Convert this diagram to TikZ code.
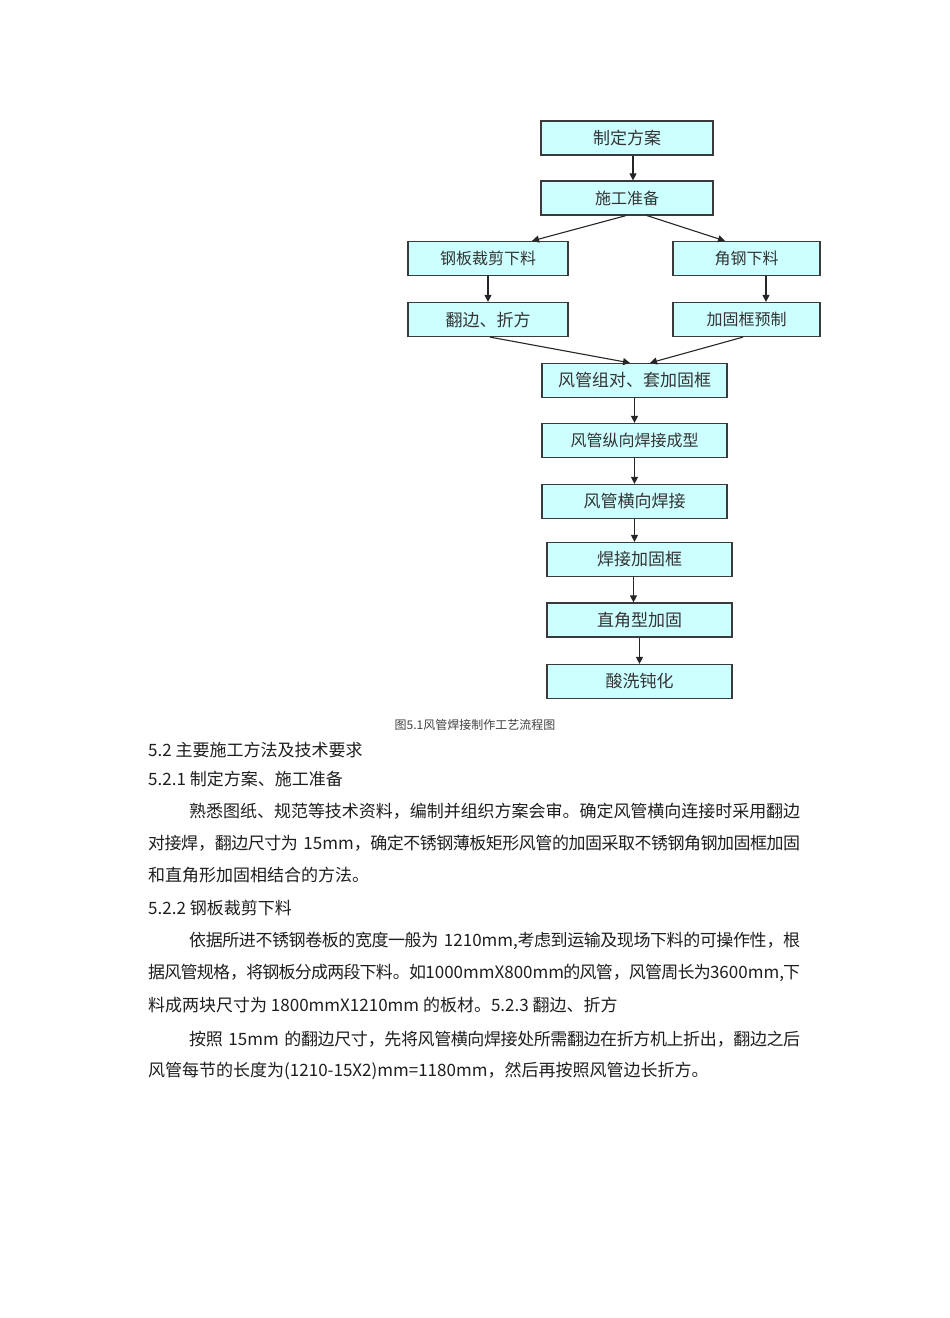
\documentclass[tikz,border=0pt]{standalone}
\usepackage{fontspec}
\setmainfont{Noto Sans CJK SC}
\usetikzlibrary{arrows.meta}
\definecolor{boxfill}{HTML}{CCFFFF}
\definecolor{boxline}{HTML}{3A3A3A}
\definecolor{inktext}{HTML}{1E1E1E}

\begin{document}
\begin{tikzpicture}[x=1pt,y=-1pt,
    stepbox/.style={draw=boxline, line width=1.2pt, fill=boxfill, inner sep=0pt,
      minimum width=#1, minimum height=34pt, text=black!80,
      font=\fontsize{16}{16}\selectfont},
    stepbox/.default=185pt,
    flow/.style={draw=black!85, line width=1.1pt, -{Triangle[length=7pt,width=7pt]}},
    textline/.style={anchor=west, inner sep=0pt, text=inktext,
      font=\fontsize{17}{17}\selectfont},
    fullline/.style={textline, text width=#1,
      execute at begin node={\noindent\parfillskip=0pt\relax
        \XeTeXlinebreaklocale "zh"\XeTeXlinebreakskip=0pt plus 3pt minus 2.5pt\relax}},
    fullline/.default=652pt]

  \useasboundingbox (0,0) rectangle (950,1318);

  % Process boxes
  \node[stepbox=172pt] (plan)  at (627,138)   {\fontsize{17}{17}\selectfont 制定方案};
  \node[stepbox=172pt] (prep)  at (627,198)   {施工准备};
  \node[stepbox=160pt] (cut)   at (488,258.5) {钢板裁剪下料};
  \node[stepbox=147pt] (angle) at (746.5,258.5) {角钢下料};
  \node[stepbox=160pt] (fold)  at (488,319.5) {\fontsize{17}{17}\selectfont 翻边、折方};
  \node[stepbox=147pt] (frame) at (746.5,319.5) {加固框预制};

  \node[stepbox] (assem)     at (634.5,380.5) {\fontsize{17}{17}\selectfont 风管组对、套加固框};
  \node[stepbox] (longweld)  at (634.5,440.5) {风管纵向焊接成型};
  \node[stepbox] (transweld) at (634.5,501.5) {\fontsize{17}{17}\selectfont 风管横向焊接};
  \node[stepbox] (frameweld) at (639.5,559.5) {\fontsize{17}{17}\selectfont 焊接加固框};
  \node[stepbox] (rightang)  at (639.5,620)   {\fontsize{17}{17}\selectfont 直角型加固};
  \node[stepbox] (pickle)    at (639.5,681.5) {\fontsize{17}{17}\selectfont 酸洗钝化};

  % Arrows
  \draw[flow] ([xshift=6pt]plan.south) -- ([xshift=6pt]prep.north);
  \draw[flow] ([xshift=-1pt]prep.south) -- ([xshift=44pt]cut.north);
  \draw[flow] ([xshift=20pt]prep.south) -- ([xshift=-21.5pt]angle.north);
  \draw[flow] (cut.south) -- (fold.north);
  \draw[flow] ([xshift=19.5pt]angle.south) -- ([xshift=19.5pt]frame.north);
  \draw[flow] ([xshift=2pt]fold.south) -- ([xshift=-4.5pt]assem.north);
  \draw[flow] ([xshift=-3.5pt]frame.south) -- ([xshift=15.5pt]assem.north);
  \draw[flow] (assem.south) -- (longweld.north);
  \draw[flow] (longweld.south) -- (transweld.north);
  \draw[flow] (transweld.south) -- (transweld.south |- frameweld.north);
  \draw[flow] ([xshift=-6pt]frameweld.south) -- ([xshift=-6pt]rightang.north);
  \draw[flow] (rightang.south) -- (pickle.north);

  % Caption and text below
  \node[inner sep=0pt, text=black!75, font=\fontsize{12}{12}\selectfont] (cap) at (475,725)
    {图5.1风管焊接制作工艺流程图};

  \node[textline] (h1) at (148,750) {5.2 主要施工方法及技术要求};
  \node[textline] (h2) at (148,779) {5.2.1 制定方案、施工准备};
  \node[fullline=611pt] (p1) at (189,811)
    {熟悉图纸、规范等技术资料，编制并组织方案会审。确定风管横向连接时采用翻边};
  \node[fullline] (p2) at (148,843)
    {对接焊，翻边尺寸为 15mm，确定不锈钢薄板矩形风管的加固采取不锈钢角钢加固框加固};
  \node[textline] (p3) at (148,875) {和直角形加固相结合的方法。};
  \node[textline] (h3) at (148,908) {5.2.2 钢板裁剪下料};
  \node[fullline=611pt] (p4) at (189,941)
    {依据所进不锈钢卷板的宽度一般为 1210mm,考虑到运输及现场下料的可操作性，根};
  \node[fullline] (p5) at (148,973)
    {据风管规格，将钢板分成两段下料。如1000mmX800mm的风管，风管周长为3600mm,下};
  \node[textline] (p6) at (148,1005) {料成两块尺寸为 1800mmX1210mm 的板材。5.2.3 翻边、折方};
  \node[fullline=611pt] (p7) at (189,1039)
    {按照 15mm 的翻边尺寸，先将风管横向焊接处所需翻边在折方机上折出，翻边之后};
  \node[textline] (p8) at (148,1071) {风管每节的长度为(1210-15X2)mm=1180mm，然后再按照风管边长折方。};
\end{tikzpicture}
\end{document}
